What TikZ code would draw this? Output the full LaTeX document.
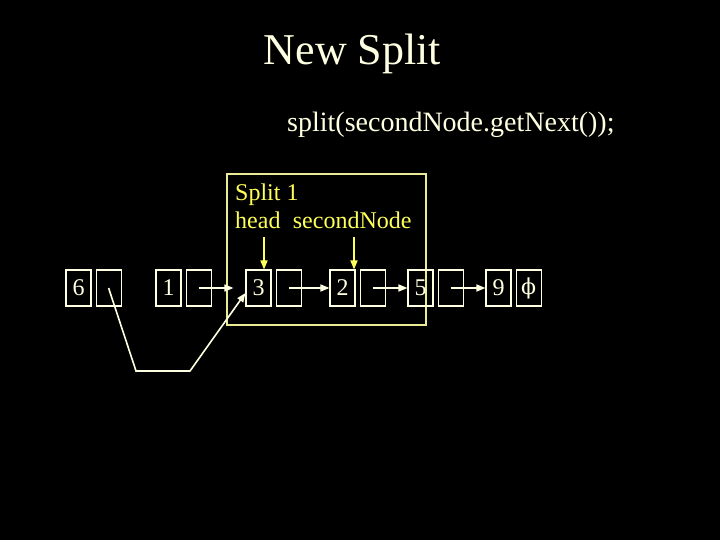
\documentclass[tikz,border=0pt]{standalone}
\usepackage{fontspec}
\setmainfont{Liberation Serif}
\newfontfamily\phifont{DejaVu Serif}
\usetikzlibrary{arrows.meta,calc,positioning}
\definecolor{chalk}{RGB}{255,255,225}
\definecolor{splityellow}{RGB}{255,255,90}
\definecolor{framey}{RGB}{235,235,150}

\begin{document}
\begin{tikzpicture}[x=1bp,y=-1bp,
  cell/.style={draw=chalk,line width=1.1bp,minimum width=25bp,minimum height=36bp,inner sep=0pt,text=chalk,font=\fontsize{24bp}{28bp}\selectfont},
  link/.style={chalk,line width=1.6bp,-{Triangle[length=9bp,width=7bp]}},
  tag/.style={anchor=base west,inner sep=0pt,text=splityellow,font=\fontsize{24bp}{28bp}\selectfont},
  pointer/.style={splityellow,line width=1.6bp,-{Triangle[length=9bp,width=7bp]}}]
  \fill[black] (0,0) rectangle (720,540);
  \node[anchor=base,text=chalk,font=\fontsize{44bp}{52bp}\selectfont] (title) at (352.5,65) {New Split};
  \node[anchor=base west,inner sep=0pt,text=chalk,font=\fontsize{28bp}{34bp}\selectfont] (call) at (287,131.7) {split(secondNode.getNext());};
  \draw[framey,line width=1.1bp] (227,174) rectangle (426,325);
  \node[tag] (splitlbl) at (235,200.7) {Split 1};
  \node[tag] (headlbl) at (235,229) {head};
  \node[tag] (seclbl) at (292.7,229) {secondNode};
  \foreach \x/\val/\ptr in {66/6/{},156/1/{},246/3/{},330/2/{},408/5/{},486/9/{{\phifont\fontsize{22bp}{26bp}\selectfont ϕ}}}{
    \node[cell] (v\val) at (\x+12.5,288) {\val};
    \node[cell,right=4bp of v\val] (p\val) {\ptr};
  }
  \draw[pointer] ([xshift=5.5bp,yshift=32bp]v3.north) -- ([xshift=5.5bp]v3.north);
  \draw[pointer] ([xshift=11.5bp,yshift=32bp]v2.north) -- ([xshift=11.5bp]v2.north);
  \draw[link,shorten >=12bp] (p1.center) -- (v3.west);
  \foreach \a/\b in {3/2,2/5,5/9}
    \draw[link] (p\a.center) -- (v\b.west);
  \coordinate (dipA) at (136,371);
  \coordinate (dipB) at (190,371);
  \draw[link] (p6.center) -- (dipA) -- (dipB) -- ($(v3.west)+(0,5)$);
\end{tikzpicture}
\end{document}
